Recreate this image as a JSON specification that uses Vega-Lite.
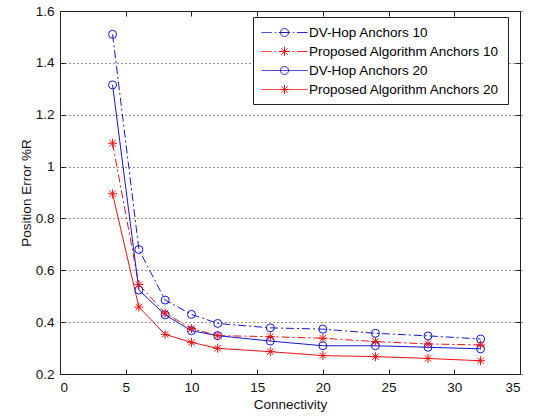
{
  "$schema": "https://vega.github.io/schema/vega-lite/v6.json",
  "width": 460,
  "height": 363,
  "autosize": "none",
  "padding": {"left": 60, "top": 11, "right": 21, "bottom": 43},
  "background": "white",
  "config": {
    "font": "Liberation Sans",
    "view": {"stroke": "#222", "strokeWidth": 1},
    "axis": {"labelFont": "Liberation Sans", "titleFont": "Liberation Sans", "labelFontSize": 13.5, "titleFontSize": 13.5, "titleFontWeight": "normal", "labelColor": "#111", "titleColor": "#111", "domain": false, "tickColor": "#222", "tickWidth": 1, "ticks": true, "tickSize": 5, "offset": -5},
    "legend": {
      "orient": "none", "legendX": 193, "legendY": 6, "title": null,
      "strokeColor": "#222", "fillColor": "white", "padding": 8, "cornerRadius": 0,
      "labelFont": "Liberation Sans", "labelFontSize": 13.5, "labelColor": "#000", "labelOffset": 17, "labelLimit": 0,
      "symbolSize": 196, "symbolOffset": 16, "symbolStrokeWidth": 1, "rowPadding": 5, "symbolOpacity": 1, "symbolDash": [1, 0], "symbolFillColor": "transparent"
    }
  },
  "data": {
    "values": [
      {"series": "DV-Hop Anchors 10", "connectivity": 4, "error": 1.51},
      {"series": "DV-Hop Anchors 10", "connectivity": 6, "error": 0.68},
      {"series": "DV-Hop Anchors 10", "connectivity": 8, "error": 0.485},
      {"series": "DV-Hop Anchors 10", "connectivity": 10, "error": 0.43},
      {"series": "DV-Hop Anchors 10", "connectivity": 12, "error": 0.395},
      {"series": "DV-Hop Anchors 10", "connectivity": 16, "error": 0.378},
      {"series": "DV-Hop Anchors 10", "connectivity": 20, "error": 0.373},
      {"series": "DV-Hop Anchors 10", "connectivity": 24, "error": 0.357},
      {"series": "DV-Hop Anchors 10", "connectivity": 28, "error": 0.347},
      {"series": "DV-Hop Anchors 10", "connectivity": 32, "error": 0.335},
      {"series": "Proposed Algorithm Anchors 10", "connectivity": 4, "error": 1.09},
      {"series": "Proposed Algorithm Anchors 10", "connectivity": 6, "error": 0.545},
      {"series": "Proposed Algorithm Anchors 10", "connectivity": 8, "error": 0.435},
      {"series": "Proposed Algorithm Anchors 10", "connectivity": 10, "error": 0.375},
      {"series": "Proposed Algorithm Anchors 10", "connectivity": 12, "error": 0.348},
      {"series": "Proposed Algorithm Anchors 10", "connectivity": 16, "error": 0.344},
      {"series": "Proposed Algorithm Anchors 10", "connectivity": 20, "error": 0.338},
      {"series": "Proposed Algorithm Anchors 10", "connectivity": 24, "error": 0.325},
      {"series": "Proposed Algorithm Anchors 10", "connectivity": 28, "error": 0.316},
      {"series": "Proposed Algorithm Anchors 10", "connectivity": 32, "error": 0.312},
      {"series": "DV-Hop Anchors 20", "connectivity": 4, "error": 1.315},
      {"series": "DV-Hop Anchors 20", "connectivity": 6, "error": 0.524},
      {"series": "DV-Hop Anchors 20", "connectivity": 8, "error": 0.428},
      {"series": "DV-Hop Anchors 20", "connectivity": 10, "error": 0.367},
      {"series": "DV-Hop Anchors 20", "connectivity": 12, "error": 0.348},
      {"series": "DV-Hop Anchors 20", "connectivity": 16, "error": 0.327},
      {"series": "DV-Hop Anchors 20", "connectivity": 20, "error": 0.309},
      {"series": "DV-Hop Anchors 20", "connectivity": 24, "error": 0.309},
      {"series": "DV-Hop Anchors 20", "connectivity": 28, "error": 0.303},
      {"series": "DV-Hop Anchors 20", "connectivity": 32, "error": 0.297},
      {"series": "Proposed Algorithm Anchors 20", "connectivity": 4, "error": 0.895},
      {"series": "Proposed Algorithm Anchors 20", "connectivity": 6, "error": 0.458},
      {"series": "Proposed Algorithm Anchors 20", "connectivity": 8, "error": 0.353},
      {"series": "Proposed Algorithm Anchors 20", "connectivity": 10, "error": 0.322},
      {"series": "Proposed Algorithm Anchors 20", "connectivity": 12, "error": 0.299},
      {"series": "Proposed Algorithm Anchors 20", "connectivity": 16, "error": 0.286},
      {"series": "Proposed Algorithm Anchors 20", "connectivity": 20, "error": 0.271},
      {"series": "Proposed Algorithm Anchors 20", "connectivity": 24, "error": 0.267},
      {"series": "Proposed Algorithm Anchors 20", "connectivity": 28, "error": 0.26},
      {"series": "Proposed Algorithm Anchors 20", "connectivity": 32, "error": 0.251}
    ]
  },
  "encoding": {
    "color": {"field": "series", "type": "nominal",
              "scale": {"domain": ["DV-Hop Anchors 10", "Proposed Algorithm Anchors 10", "DV-Hop Anchors 20", "Proposed Algorithm Anchors 20"], "range": ["#1515d0", "#f01010", "#1515d0", "#f01010"]}}
  },
  "layer": [
    {
      "mark": {"type": "point", "opacity": 0, "filled": false, "size": 10},
      "encoding": {
        "x": {"field": "connectivity", "type": "quantitative", "scale": {"domain": [0, 35], "nice": false, "zero": false}, "axis": null},
        "y": {"field": "error", "type": "quantitative", "scale": {"domain": [0.2, 1.6], "nice": false, "zero": false}, "axis": null},
        "shape": {"field": "series", "type": "nominal",
                  "scale": {"domain": ["DV-Hop Anchors 10", "Proposed Algorithm Anchors 10", "DV-Hop Anchors 20", "Proposed Algorithm Anchors 20"],
                            "range": [
                              "M-3.286,0H-1.8M-1.386,0H-1.186M-0.786,0H0.786M1.186,0H1.386M1.8,0H3.286M0.571,0A0.571,0.571,0,1,1,-0.571,0A0.571,0.571,0,1,1,0.571,0",
                              "M-3.286,0H-1.8M-1.386,0H-1.186M-0.786,0H0.786M1.186,0H1.386M1.8,0H3.286M-0.64,0H0.64M0,-0.64V0.64M-0.45,-0.45L0.45,0.45M-0.45,0.45L0.45,-0.45",
                              "M-3.286,0H3.286M0.571,0A0.571,0.571,0,1,1,-0.571,0A0.571,0.571,0,1,1,0.571,0",
                              "M-3.286,0H3.286M-0.64,0H0.64M0,-0.64V0.64M-0.45,-0.45L0.45,0.45M-0.45,0.45L0.45,-0.45"
                            ]}}
      }
    },
    {
      "transform": [{"filter": "indexof(datum.series, 'Anchors 10') >= 0"}],
      "mark": {"type": "line", "strokeWidth": 1, "strokeDash": [8, 3, 2, 3]},
      "encoding": {
        "x": {"field": "connectivity", "type": "quantitative",
              "axis": {"orient": "bottom", "title": "Connectivity", "values": [0, 5, 10, 15, 20, 25, 30, 35], "grid": false, "labelPadding": 6, "titlePadding": 4}},
        "y": {"field": "error", "type": "quantitative",
              "axis": {"orient": "left", "title": "Position Error %R", "values": [0.2, 0.4, 0.6, 0.8, 1.0, 1.2, 1.4, 1.6], "format": ".1~f", "grid": true, "gridColor": "#000", "gridDash": [1, 3], "gridWidth": 1, "gridOpacity": 0.85, "labelPadding": 6, "titlePadding": 2}}
      }
    },
    {
      "transform": [{"filter": "indexof(datum.series, 'Anchors 20') >= 0"}],
      "mark": {"type": "line", "strokeWidth": 1},
      "encoding": {
        "x": {"field": "connectivity", "type": "quantitative", "axis": null},
        "y": {"field": "error", "type": "quantitative", "axis": null}
      }
    },
    {
      "transform": [{"filter": "indexof(datum.series, 'DV-Hop') >= 0"}],
      "mark": {"type": "point", "shape": "circle", "size": 64, "filled": false, "strokeWidth": 1, "opacity": 1},
      "encoding": {
        "x": {"field": "connectivity", "type": "quantitative",
              "axis": {"orient": "top", "title": null, "labels": false, "values": [0, 5, 10, 15, 20, 25, 30, 35], "grid": false}},
        "y": {"field": "error", "type": "quantitative",
              "axis": {"orient": "right", "title": null, "labels": false, "values": [0.2, 0.4, 0.6, 0.8, 1.0, 1.2, 1.4, 1.6], "grid": false}}
      }
    },
    {
      "transform": [{"filter": "indexof(datum.series, 'Proposed') >= 0"}],
      "mark": {"type": "point", "shape": "M-1,0H1M0,-1V1M-0.7,-0.7L0.7,0.7M-0.7,0.7L0.7,-0.7", "size": 81, "filled": false, "strokeWidth": 1, "opacity": 1},
      "encoding": {
        "x": {"field": "connectivity", "type": "quantitative", "axis": null},
        "y": {"field": "error", "type": "quantitative", "axis": null}
      }
    }
  ],
  "resolve": {"axis": {"x": "independent", "y": "independent"}}
}
